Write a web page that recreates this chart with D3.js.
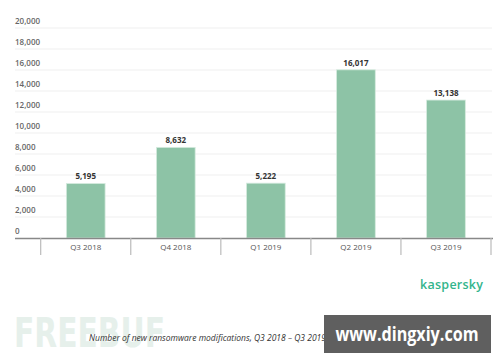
<!DOCTYPE html>
<html><head><meta charset="utf-8">
<script src="https://cdn.jsdelivr.net/npm/d3@7"></script>
<style>body{margin:0;background:#fff}svg{display:block}</style>
</head><body>
<script>
const categories = ["Q3 2018","Q4 2018","Q1 2019","Q2 2019","Q3 2019"];
const values = [5195, 8632, 5222, 16017, 13138];
const yTicks = [0,2000,4000,6000,8000,10000,12000,14000,16000,18000,20000];
const caption = "Number of new ransomware modifications, Q3 2018 – Q3 2019";

const W=500,H=362;
const svg=d3.select("body").append("svg").attr("width",W).attr("height",H);
const font="'Open Sans', 'DejaVu Sans', sans-serif";

const y=d3.scaleLinear().domain([0,20000]).range([238,28]);
const x=d3.scaleBand().domain(categories).range([40.7,491]).paddingInner(0.57).paddingOuter(0.285);

// gridlines + y labels
const g=svg.append("g");
g.selectAll("line.grid").data(yTicks.filter(d=>d>0)).join("line")
 .attr("x1",15).attr("x2",492).attr("y1",d=>y(d)).attr("y2",d=>y(d))
 .attr("stroke","#efefef").attr("stroke-width",1);
g.selectAll("text.yl").data(yTicks).join("text")
 .attr("x",15).attr("y",d=>y(d)-4)
 .attr("font-family",font).attr("font-size",8).attr("font-weight",600).attr("fill","#666")
 .text(d=>d3.format(",")(d));

// bars
svg.selectAll("rect.bar").data(values).join("rect")
 .attr("x",(d,i)=>x(categories[i])).attr("width",x.bandwidth())
 .attr("y",d=>y(d)).attr("height",d=>y(0)-y(d))
 .attr("fill","#8dc3a6").attr("stroke","#d6ebdf").attr("stroke-width",0.8);

svg.selectAll("text.val").data(values).join("text")
 .attr("x",(d,i)=>x(categories[i])+x.bandwidth()/2).attr("y",d=>y(d)-4)
 .attr("text-anchor","middle").attr("font-family",font).attr("font-size",8).attr("font-weight",700).attr("fill","#333")
 .text(d=>d3.format(",")(d));

// x axis
const step=x.step();
const bounds=d3.range(categories.length+1).map(i=>40.7+i*step);
svg.append("line").attr("x1",15).attr("x2",493).attr("y1",238.5).attr("y2",238.5).attr("stroke","#888").attr("stroke-width",1.3);
svg.selectAll("line.tick").data(bounds).join("line")
 .attr("x1",d=>d).attr("x2",d=>d).attr("y1",238).attr("y2",255).attr("stroke","#bbb").attr("stroke-width",1.2);
svg.selectAll("text.xl").data(categories).join("text")
 .attr("x",d=>x(d)+x.bandwidth()/2).attr("y",250)
 .attr("text-anchor","middle").attr("font-family",font).attr("font-size",8).attr("fill","#555")
 .text(d=>d);

// kaspersky logo
svg.append("text").attr("x",483).attr("y",289).attr("text-anchor","end")
 .attr("font-family",font).attr("font-size",12.5).attr("font-weight",600).attr("fill","#33b58c")
 .attr("textLength",63).text("kaspersky");

// watermark
svg.append("text").attr("x",14).attr("y",347).attr("font-family","'DejaVu Sans', sans-serif")
 .attr("font-size",40).attr("font-weight",700).attr("fill","#e6f0eb")
 .attr("textLength",151).attr("lengthAdjust","spacingAndGlyphs").text("FREEBUF");

// caption
svg.append("text").attr("x",89).attr("y",341).attr("font-family",font).attr("font-size",8.5)
 .attr("font-style","italic").attr("fill","#333").text(caption);

// overlay box
svg.append("rect").attr("x",324).attr("y",315).attr("width",167).attr("height",38).attr("fill","#5f5f5f");
svg.append("text").attr("x",407).attr("y",341).attr("text-anchor","middle")
 .attr("font-family",font).attr("font-size",19).attr("font-weight",700).attr("fill","#fff")
 .attr("textLength",143).attr("lengthAdjust","spacingAndGlyphs").text("www.dingxiy.com");
</script>
</body></html>
